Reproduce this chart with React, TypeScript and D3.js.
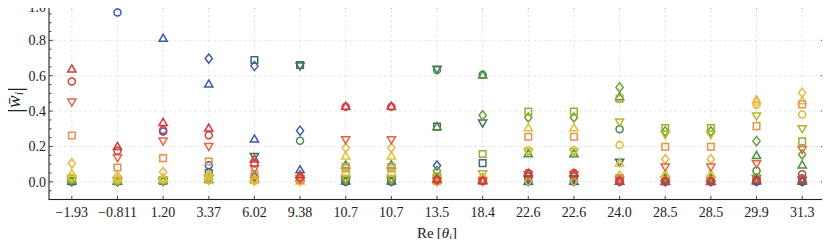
import React, { useEffect, useRef } from "react";
import * as d3 from "d3";

// eigenvalue labels along x
const thetaLabels = ["\u22121.93", "\u22120.811", "1.20", "3.37", "6.02", "9.38", "10.7", "10.7", "13.5", "18.4", "22.6", "22.6", "24.0", "28.5", "28.5", "29.9", "31.3"];

// one series per component i, marker shape cycles o ^ D s v
const seriesShapes = ["circle", "up", "diamond", "square", "down", "circle", "up", "diamond", "square", "down", "circle", "up", "diamond", "square", "down", "circle", "up"];
const seriesColors = ["#3d5aa8", "#3d5aa8", "#3f5fa5", "#3c6b78", "#3f7060", "#4a8a4a", "#4e8c3c", "#6f9e34", "#9aae2e", "#b4b82a", "#d6c235", "#e2c03c", "#e8b84a", "#e8924c", "#e0673f", "#d23f3f", "#d13a3a"];

// |w_i| for each column (entries = series 0..16)
const col0 = [0.0, 0.003, 0.005, 0.004, 0.006, 0.008, 0.01, 0.012, 0.015, 0.02, 0.025, 0.045, 0.104, 0.262, 0.453, 0.567, 0.636];
const col1 = [0.957, 0.002, 0.003, 0.003, 0.004, 0.004, 0.005, 0.006, 0.008, 0.01, 0.012, 0.018, 0.032, 0.081, 0.138, 0.176, 0.198];
const col2 = [0.285, 0.81, 0.01, 0.006, 0.005, 0.005, 0.006, 0.008, 0.01, 0.012, 0.015, 0.022, 0.055, 0.134, 0.232, 0.293, 0.334];
const col3 = [0.094, 0.551, 0.697, 0.05, 0.02, 0.01, 0.012, 0.015, 0.018, 0.02, 0.01, 0.03, 0.04, 0.115, 0.202, 0.264, 0.302];
const col4 = [0.02, 0.24, 0.655, 0.689, 0.145, 0.03, 0.02, 0.015, 0.01, 0.008, 0.005, 0.01, 0.015, 0.043, 0.076, 0.104, 0.127];
const col5 = [0.01, 0.066, 0.289, 0.661, 0.657, 0.232, 0.02, 0.015, 0.01, 0.008, 0.005, 0.003, 0.005, 0.01, 0.018, 0.025, 0.038];
const col6 = [0.0, 0.003, 0.005, 0.008, 0.01, 0.012, 0.094, 0.01, 0.085, 0.02, 0.051, 0.145, 0.193, 0.076, 0.24, 0.425, 0.425];
const col7 = [0.0, 0.003, 0.005, 0.008, 0.01, 0.012, 0.094, 0.01, 0.085, 0.02, 0.051, 0.145, 0.193, 0.076, 0.24, 0.425, 0.425];
const col8 = [0.005, 0.01, 0.092, 0.312, 0.638, 0.633, 0.31, 0.062, 0.03, 0.02, 0.01, 0.008, 0.003, 0.005, 0.008, 0.012, 0.015];
const col9 = [0.005, 0.01, 0.02, 0.106, 0.334, 0.605, 0.602, 0.376, 0.157, 0.047, 0.02, 0.015, 0.01, 0.008, 0.005, 0.004, 0.004];
const col10 = [0.0, 0.002, 0.005, 0.01, 0.02, 0.03, 0.157, 0.364, 0.397, 0.17, 0.179, 0.304, 0.003, 0.255, 0.04, 0.05, 0.045];
const col11 = [0.0, 0.002, 0.005, 0.01, 0.02, 0.03, 0.157, 0.364, 0.397, 0.17, 0.179, 0.304, 0.003, 0.255, 0.04, 0.05, 0.045];
const col12 = [0.0, 0.003, 0.005, 0.02, 0.113, 0.298, 0.48, 0.534, 0.47, 0.34, 0.208, 0.104, 0.034, 0.02, 0.01, 0.004, 0.002];
const col13 = [0.0, 0.002, 0.003, 0.005, 0.01, 0.015, 0.02, 0.285, 0.304, 0.27, 0.03, 0.043, 0.128, 0.198, 0.085, 0.005, 0.0];
const col14 = [0.0, 0.002, 0.003, 0.005, 0.01, 0.015, 0.02, 0.285, 0.304, 0.27, 0.03, 0.043, 0.128, 0.198, 0.085, 0.005, 0.0];
const col15 = [0.0, 0.003, 0.005, 0.01, 0.02, 0.062, 0.147, 0.23, 0.02, 0.374, 0.434, 0.463, 0.45, 0.315, 0.104, 0.01, 0.01];
const col16 = [0.0, 0.002, 0.003, 0.005, 0.01, 0.02, 0.094, 0.155, 0.229, 0.302, 0.381, 0.457, 0.504, 0.438, 0.185, 0.043, 0.01];

const columns = [col0, col1, col2, col3, col4, col5, col6, col7, col8, col9, col10, col11, col12, col13, col14, col15, col16];
const yTicks = [0, 0.2, 0.4, 0.6, 0.8, 1.0];

const markerPath = (shape: string) => {
  switch (shape) {
    case "circle":
      return "M3.5,0A3.5,3.5,0,1,1,-3.5,0A3.5,3.5,0,1,1,3.5,0Z";
    case "up":
      return "M0,-4.4L4.1,2.7L-4.1,2.7Z";
    case "down":
      return "M0,4.4L4.1,-2.7L-4.1,-2.7Z";
    case "square":
      return "M-3.3,-3.3H3.3V3.3H-3.3Z";
    default:
      return "M0,-4.6L3.6,0L0,4.6L-3.6,0Z";
  }
};

const App: React.FC = () => {
  const ref = useRef<SVGSVGElement | null>(null);

  useEffect(() => {
    const svg = d3.select(ref.current);
    svg.selectAll("*").remove();

    const left = 49;
    const right = 825;
    const top = 5;
    const bottom = 199.5;
    const font = "Liberation Serif, serif";

    const x = d3
      .scalePoint<number>()
      .domain(d3.range(thetaLabels.length))
      .range([left, right])
      .padding(0.5);
    const y = d3.scaleLinear().domain([-0.1, 1.0]).range([bottom, top]);

    // grid
    const grid = svg.append("g").attr("stroke", "#d8d8d8").attr("stroke-width", 0.7).attr("stroke-dasharray", "2.5,2.5");
    grid
      .selectAll(".gx")
      .data(x.domain())
      .enter()
      .append("line")
      .attr("x1", (d) => x(d)!)
      .attr("x2", (d) => x(d)!)
      .attr("y1", top)
      .attr("y2", bottom);
    grid
      .selectAll(".gy")
      .data(yTicks)
      .enter()
      .append("line")
      .attr("x1", left)
      .attr("x2", right)
      .attr("y1", (d) => y(d))
      .attr("y2", (d) => y(d));

    // markers
    const pts: { c: number; s: number; v: number }[] = [];
    columns.forEach((col, c) => col.forEach((v, s) => pts.push({ c, s, v })));
    pts.sort((a, b) => a.s - b.s);
    svg
      .append("g")
      .selectAll("path")
      .data(pts)
      .enter()
      .append("path")
      .attr("transform", (d) => `translate(${x(d.c)},${y(d.v)})`)
      .attr("d", (d) => markerPath(seriesShapes[d.s]))
      .attr("fill", "none")
      .attr("stroke", (d) => seriesColors[d.s])
      .attr("stroke-width", 1.5);

    // frame
    svg
      .append("rect")
      .attr("x", left)
      .attr("y", top)
      .attr("width", right - left)
      .attr("height", bottom - top)
      .attr("fill", "none")
      .attr("stroke", "#222")
      .attr("stroke-width", 1.1);

    // ticks
    const ticks = svg.append("g").attr("stroke", "#222").attr("stroke-width", 0.8);
    x.domain().forEach((d) => {
      ticks.append("line").attr("x1", x(d)!).attr("x2", x(d)!).attr("y1", bottom).attr("y2", bottom - 3.5);
      ticks.append("line").attr("x1", x(d)!).attr("x2", x(d)!).attr("y1", top).attr("y2", top + 3.5);
    });
    d3.range(-0.1, 1.0001, 0.05).forEach((v) => {
      const major = Math.abs(Math.round(v * 5) - v * 5) < 1e-6;
      const len = major ? 4 : 2.5;
      ticks.append("line").attr("x1", left).attr("x2", left + len).attr("y1", y(v)).attr("y2", y(v));
      ticks.append("line").attr("x1", right).attr("x2", right - len).attr("y1", y(v)).attr("y2", y(v));
    });

    // tick labels
    svg
      .append("g")
      .selectAll("text")
      .data(yTicks)
      .enter()
      .append("text")
      .attr("x", left - 3)
      .attr("y", (d) => Math.max(y(d) + 4.8, 11.5))
      .attr("text-anchor", "end")
      .style("font-family", font)
      .attr("font-size", 14)
      .attr("fill", "#222")
      .text((d) => d.toFixed(1));

    svg
      .append("g")
      .selectAll("text")
      .data(x.domain())
      .enter()
      .append("text")
      .attr("x", (d) => x(d)!)
      .attr("y", 217)
      .attr("text-anchor", "middle")
      .style("font-family", font)
      .attr("font-size", 14)
      .attr("fill", "#222")
      .text((d) => thetaLabels[d]);

    // x label
    const xl = svg
      .append("text")
      .attr("x", 437)
      .attr("y", 238)
      .attr("text-anchor", "middle")
      .style("font-family", font)
      .attr("font-size", 15)
      .attr("fill", "#222");
    xl.append("tspan").text("Re\u2009[");
    xl.append("tspan").attr("font-style", "italic").text("\u03b8");
    xl.append("tspan").attr("font-style", "italic").attr("font-size", 10.5).attr("dy", 2.5).text("i");
    xl.append("tspan").attr("dy", -2.5).text("]");

    // y label
    const yl = svg
      .append("text")
      .attr("transform", "translate(20,100) rotate(-90)")
      .attr("text-anchor", "middle")
      .style("font-family", font)
      .attr("font-size", 19)
      .attr("fill", "#222");
    yl.append("tspan").attr("font-size", 26).attr("dy", 2).text("|");
    yl.append("tspan").attr("font-style", "italic").attr("dy", -2).text("w\u0304");
    yl.append("tspan").attr("font-style", "italic").attr("font-size", 12).attr("dy", 3).text("i");
    yl.append("tspan").attr("font-size", 26).attr("dy", -1).text("|");
  }, []);

  return <svg ref={ref} width={830} height={247} style={{ display: "block", margin: -8 }} />;
};

export default App;
